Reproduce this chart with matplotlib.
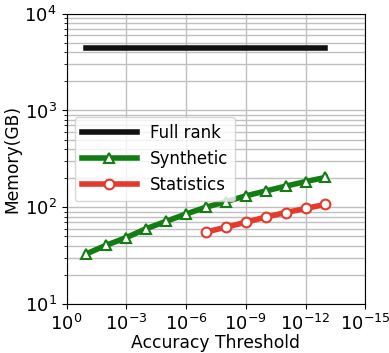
import matplotlib
matplotlib.use('Agg')
import matplotlib.pyplot as plt

# Accuracy thresholds (x) and memory in GB (y)
full_x = [1e-1, 1e-13]
full_y = [4400, 4400]

syn_x = [1e-1, 1e-2, 1e-3, 1e-4, 1e-5, 1e-6, 1e-7, 1e-8, 1e-9, 1e-10, 1e-11, 1e-12, 1e-13]
syn_y = [33, 40.5, 48.5, 60, 71.5, 85, 100, 114, 131, 147, 165, 184, 203]

stat_x = [1e-7, 1e-8, 1e-9, 1e-10, 1e-11, 1e-12, 1e-13]
stat_y = [55.5, 62, 70, 79, 88, 97, 107]

plt.rcParams['font.size'] = 13

fig = plt.figure(figsize=(3.89, 3.53), dpi=100)
ax = fig.add_axes([0.171, 0.139, 0.768, 0.822])

ax.plot(full_x, full_y, color='#111111', linewidth=4, label='Full rank')
ax.plot(syn_x, syn_y, color='#137d13', linewidth=4, marker='^', markersize=7,
        markerfacecolor='white', markeredgewidth=1.5, label='Synthetic')
ax.plot(stat_x, stat_y, color='#e5392b', linewidth=4, marker='o', markersize=7,
        markerfacecolor='white', markeredgewidth=1.5, label='Statistics')

ax.set_xscale('log')
ax.set_yscale('log')
ax.set_xlim(1e0, 1e-15)
ax.set_ylim(1e1, 1e4)
ax.set_xticks([1e0, 1e-3, 1e-6, 1e-9, 1e-12, 1e-15])
ax.xaxis.set_minor_locator(matplotlib.ticker.NullLocator())

ax.grid(True, which='both', color='#c0c0c0', linewidth=1)
ax.set_axisbelow(True)

ax.set_xlabel('Accuracy Threshold', fontsize=12.3, labelpad=0)
ax.set_ylabel('Memory(GB)', fontsize=12.3, labelpad=2)

ax.legend(loc='center left', fontsize=12, handlelength=3.3)

fig.savefig('out.png', dpi=100)
